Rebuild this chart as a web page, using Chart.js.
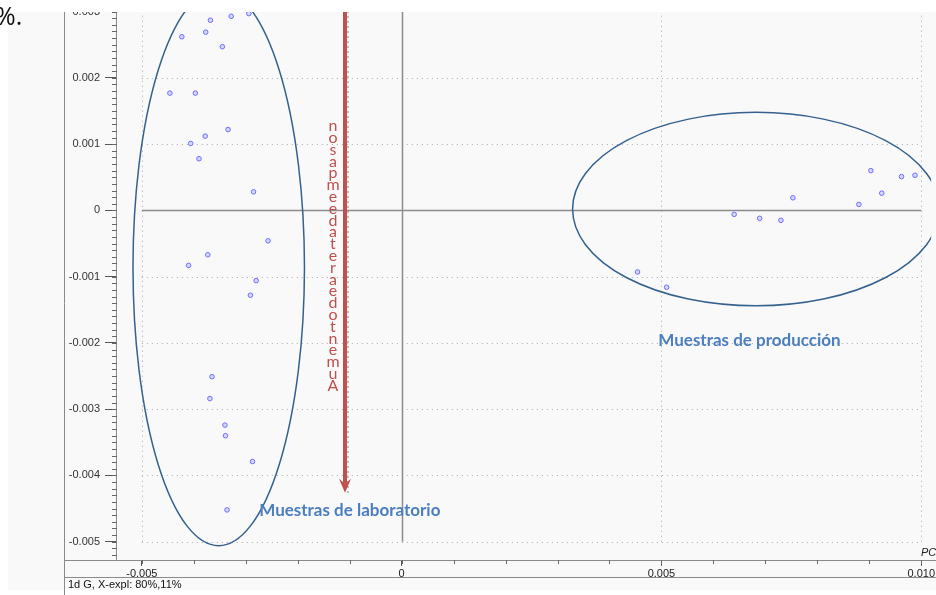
<!DOCTYPE html>
<html>
<head>
<meta charset="utf-8">
<script src="https://cdn.jsdelivr.net/npm/chart.js@4.4.1/dist/chart.umd.min.js"></script>
<style>
  html, body { margin: 0; padding: 0; background: #fff; width: 936px; height: 595px; overflow: hidden; }
  #panel { position: absolute; left: 8px; top: 12px; width: 928px; height: 578px; background: #f9f9f9; }
  #plot { position: absolute; left: 0; top: 0; }
  #strip { position: absolute; left: 0; top: 0; width: 936px; height: 12px; background: #fff; z-index: 2; }
  #pct { position: absolute; left: -5px; top: 3px; font: 25px/1 "Open Sans", sans-serif; color: #111; z-index: 3; }
</style>
</head>
<body>
<div id="panel"></div>
<canvas id="plot" width="936" height="595"></canvas>
<div id="strip"></div>
<div id="pct">%.</div>
<script>
// PCA scores (PC1 vs PC2)
const labX  = [-0.00368, -0.00328, -0.00294, -0.00423, -0.00377, -0.00345, -0.00446, -0.00397,
               -0.00334, -0.00378, -0.00406, -0.00390, -0.00285, -0.00257, -0.00373, -0.00410,
               -0.00280, -0.00291, -0.00365, -0.00369, -0.00340, -0.00339, -0.00287, -0.00336];
const labY  = [ 0.00287,  0.00293,  0.00297,  0.00262,  0.00269,  0.00247,  0.00177,  0.00177,
                0.00122,  0.00112,  0.00101,  0.00078,  0.00028, -0.00046, -0.00067, -0.00083,
               -0.00106, -0.00128, -0.00251, -0.00284, -0.00324, -0.00340, -0.00379, -0.00452];
const prodX = [0.00903, 0.00962, 0.00988, 0.00924, 0.00880, 0.00753, 0.00640, 0.00689, 0.00730, 0.00454, 0.00510];
const prodY = [0.00060, 0.00051, 0.00053, 0.00026, 0.00009, 0.00019, -0.00006, -0.00012, -0.00015, -0.00093, -0.00116];

// axis ticks
const xTickValues = [-0.005, 0, 0.005, 0.010];
const xTickLabels = ['-0.005', '0', '0.005', '0.010'];
const yTickValues = [-0.005, -0.004, -0.003, -0.002, -0.001, 0, 0.001, 0.002, 0.003];
const yTickLabels = ['-0.005', '-0.004', '-0.003', '-0.002', '-0.001', '0', '0.001', '0.002', '0.003'];

// cluster ellipses (centre and semi-axes, in score units)
const ellipseCX = [-0.00352, 0.00682];
const ellipseCY = [-0.00086, 0.00002];
const ellipseRX = [0.00165, 0.00353];
const ellipseRY = [0.00420, 0.00146];
const clusterNames = ['Muestras de laboratorio', 'Muestras de producción'];

// trend arrow
const arrowX = -0.00109;
const arrowTipY = -0.00426;
const arrowLetters = ['n','o','s','a','p','m','e','e','d','a','t','e','r','a','e','d','o','t','n','e','m','u','A'];

function labelFor(values, labels, v) {
  for (let i = 0; i < values.length; i++) if (Math.abs(values[i] - v) < 1e-9) return labels[i];
  return '';
}

const decor = {
  id: 'decor',
  beforeDatasetsDraw(chart) {
    const { ctx, chartArea: a, scales: { x, y } } = chart;
    const px = v => x.getPixelForValue(v), py = v => y.getPixelForValue(v);
    ctx.save();
    // dotted grid
    ctx.strokeStyle = '#a8a8a8'; ctx.lineWidth = 1; ctx.setLineDash([1, 4]);
    const gx0 = px(-0.005), gx1 = px(0.010), gyB = py(-0.005);
    xTickValues.filter(v => v !== 0).forEach(v => {
      const X = Math.round(px(v)) + 0.5;
      ctx.beginPath(); ctx.moveTo(X, gyB); ctx.lineTo(X, a.top); ctx.stroke();
    });
    yTickValues.filter(v => v !== 0 && v < 0.003).forEach(v => {
      const Y = Math.round(py(v)) + 0.5;
      ctx.beginPath(); ctx.moveTo(gx0, Y); ctx.lineTo(gx1, Y); ctx.stroke();
    });
    // zero lines
    ctx.setLineDash([]); ctx.strokeStyle = '#8c8c8c'; ctx.lineWidth = 1.5;
    ctx.beginPath(); ctx.moveTo(Math.round(px(0)) + 0.5, a.top); ctx.lineTo(Math.round(px(0)) + 0.5, gyB); ctx.stroke();
    ctx.beginPath(); ctx.moveTo(gx0, py(0)); ctx.lineTo(gx1, py(0)); ctx.stroke();
    // ellipses
    ctx.beginPath(); ctx.rect(a.left, a.top, a.right - a.left, a.bottom - a.top); ctx.clip();
    ctx.strokeStyle = '#34618e'; ctx.lineWidth = 1.5;
    for (let i = 0; i < ellipseCX.length; i++) {
      const cx = px(ellipseCX[i]), cy = py(ellipseCY[i]);
      const rx = Math.abs(px(ellipseCX[i] + ellipseRX[i]) - cx);
      const ry = Math.abs(py(ellipseCY[i] + ellipseRY[i]) - cy);
      ctx.beginPath(); ctx.ellipse(cx, cy, rx, ry, 0, 0, Math.PI * 2); ctx.stroke();
    }
    ctx.restore();
  },
  afterDatasetsDraw(chart) {
    const { ctx, chartArea: a, scales: { x, y } } = chart;
    const px = v => x.getPixelForValue(v), py = v => y.getPixelForValue(v);
    ctx.save();
    // frame lines
    ctx.strokeStyle = '#8a8a8a'; ctx.lineWidth = 1;
    ctx.beginPath(); ctx.moveTo(64.5, 12); ctx.lineTo(64.5, 595); ctx.stroke();
    ctx.beginPath(); ctx.moveTo(64, 560.5); ctx.lineTo(936, 560.5); ctx.stroke();
    ctx.beginPath(); ctx.moveTo(64, 577.5); ctx.lineTo(936, 577.5); ctx.stroke();
    ctx.beginPath(); ctx.moveTo(116.5, 12); ctx.lineTo(116.5, 560); ctx.stroke();
    // minor ticks
    ctx.strokeStyle = '#666';
    for (let k = -52; k <= 30; k++) {
      const Y = Math.round(py(k / 10000)) + 0.5;
      ctx.beginPath(); ctx.moveTo(112, Y); ctx.lineTo(117, Y); ctx.stroke();
    }
    for (let k = -5; k <= 10; k++) {
      const X = Math.round(px(k / 1000)) + 0.5;
      ctx.beginPath(); ctx.moveTo(X, 560); ctx.lineTo(X, 564); ctx.stroke();
    }
    // dotted guide beside the arrow
    const ax = px(arrowX), tip = py(arrowTipY);
    ctx.strokeStyle = '#333'; ctx.setLineDash([1, 4]); ctx.lineWidth = 1.2;
    ctx.beginPath(); ctx.moveTo(ax + 3, a.top); ctx.lineTo(ax + 3, tip); ctx.stroke();
    ctx.setLineDash([]);
    // red arrow
    ctx.strokeStyle = '#c0504d'; ctx.fillStyle = '#c0504d'; ctx.lineWidth = 4;
    ctx.beginPath(); ctx.moveTo(ax, a.top); ctx.lineTo(ax, tip - 9); ctx.stroke();
    ctx.beginPath();
    ctx.moveTo(ax, tip); ctx.lineTo(ax - 6, tip - 14); ctx.lineTo(ax, tip - 9); ctx.lineTo(ax + 6, tip - 14);
    ctx.closePath(); ctx.fill();
    // stacked caption
    ctx.font = '16px Lato, sans-serif'; ctx.textAlign = 'center'; ctx.textBaseline = 'middle';
    ctx.fillStyle = '#c0504d';
    const y0 = 126, step = 11.8;
    arrowLetters.forEach((ch, i) => ctx.fillText(ch, ax - 12, y0 + i * step));
    // cluster labels
    ctx.font = 'bold 17px Lato, sans-serif'; ctx.textAlign = 'left'; ctx.textBaseline = 'alphabetic';
    ctx.fillStyle = '#4a7ebf';
    ctx.fillText(clusterNames[0], px(-0.00274), 516);
    ctx.fillText(clusterNames[1], px(0.00494), 346);
    // axis title and footer
    ctx.fillStyle = '#222';
    ctx.font = 'italic 11px "Liberation Sans", Arial, sans-serif';
    ctx.fillText('PC1', 921, 556);
    ctx.font = '11px "Liberation Sans", Arial, sans-serif';
    ctx.fillStyle = '#111';
    ctx.fillText('1d G, X-expl: 80%,11%', 68, 588);
    ctx.restore();
  }
};

const pointStyle = {
  pointRadius: 2.3, pointHoverRadius: 2.3, borderWidth: 1,
  borderColor: '#6d6dff', backgroundColor: '#d6d6ff', showLine: false
};

new Chart(document.getElementById('plot'), {
  type: 'scatter',
  data: {
    datasets: [
      Object.assign({ label: clusterNames[0], data: labX.map((v, i) => ({ x: v, y: labY[i] })) }, pointStyle),
      Object.assign({ label: clusterNames[1], data: prodX.map((v, i) => ({ x: v, y: prodY[i] })) }, pointStyle)
    ]
  },
  options: {
    responsive: false, animation: false, devicePixelRatio: 1,
    layout: { padding: { top: 11, left: 0, right: 0, bottom: 0 }, autoPadding: false },
    plugins: { legend: { display: false }, tooltip: { enabled: false } },
    scales: {
      x: {
        type: 'linear', min: -0.005497, max: 0.010191,
        afterBuildTicks: s => { s.ticks = xTickValues.map(v => ({ value: v })); },
        afterFit: s => { s.height = 35; },
        ticks: {
          callback: v => labelFor(xTickValues, xTickLabels, v),
          font: { family: '"Liberation Sans", Arial, sans-serif', size: 11 }, color: '#222',
          padding: 1, maxRotation: 0, autoSkip: false
        },
        grid: { display: true, drawOnChartArea: false, drawTicks: true, tickLength: 6, color: '#555' },
        border: { display: false }
      },
      y: {
        type: 'linear', min: -0.005276, max: 0.003,
        afterBuildTicks: s => { s.ticks = yTickValues.map(v => ({ value: v })); },
        afterFit: s => { s.width = 116; },
        ticks: {
          callback: v => labelFor(yTickValues, yTickLabels, v),
          font: { family: '"Liberation Sans", Arial, sans-serif', size: 11 }, color: '#333',
          padding: 5, autoSkip: false
        },
        grid: { display: true, drawOnChartArea: false, drawTicks: true, tickLength: 11, color: '#555' },
        border: { display: false }
      }
    }
  },
  plugins: [decor]
});
</script>
</body>
</html>
